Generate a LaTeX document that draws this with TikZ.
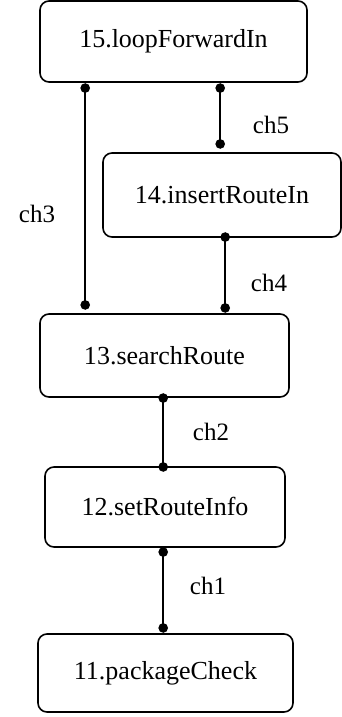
\documentclass[tikz,border=0pt]{standalone}
\usepackage{fontspec}
\setmainfont{Liberation Serif}
\usetikzlibrary{arrows.meta}
\tikzset{
  proc/.style={draw, line width=1.6pt, rounded corners=9pt, inner sep=0pt,
    font=\fontsize{26}{30}\selectfont},
  link/.style={line width=2pt, {Circle[length=9.5pt,width=9.5pt]}-{Circle[length=9.5pt,width=9.5pt]}},
  chlabel/.style={font=\fontsize{25}{30}\selectfont, inner sep=0pt}
}
\begin{document}
\begin{tikzpicture}[x=1pt,y=-1pt]
\useasboundingbox (0,0) rectangle (342,717);
% process boxes
\node[proc, minimum width=267pt, minimum height=81pt] (n15) at (173.5,41.5) {15.loopForwardIn};
\node[proc, minimum width=238pt, minimum height=84pt] (n14) at (222,195) {14.insertRouteIn};
\node[proc, minimum width=249pt, minimum height=83pt] (n13) at (164.5,355.5) {13.searchRoute};
\node[proc, minimum width=240pt, minimum height=80pt] (n12) at (165,507) {12.setRouteInfo};
\node[proc, minimum width=255pt, minimum height=78pt] (n11) at (165.5,673) {11.packageCheck};
% channels
\draw[link] ([xshift=46pt,yshift=-0.5pt]n15.south west) -- ([xshift=46pt,yshift=3.5pt]n13.north west);
\draw[link] ([xshift=181pt,yshift=-0.5pt]n15.south west) -- ([xshift=118pt,yshift=3.5pt]n14.north west);
\draw[link] ([xshift=123pt,yshift=5.5pt]n14.south west) -- ([xshift=186pt,yshift=0.5pt]n13.north west);
\draw[link] ([xshift=124pt,yshift=4.5pt]n13.south west) -- ([xshift=119pt,yshift=-5.5pt]n12.north west);
\draw[link] ([xshift=119pt,yshift=0.5pt]n12.south west) -- ([xshift=126pt,yshift=0.5pt]n11.north west);
% channel labels
\node[chlabel] (l3) at (37,214) {ch3};
\node[chlabel] (l5) at (271,125) {ch5};
\node[chlabel] (l4) at (269,283) {ch4};
\node[chlabel] (l2) at (211,432) {ch2};
\node[chlabel] (l1) at (208,586) {ch1};
\end{tikzpicture}
\end{document}
